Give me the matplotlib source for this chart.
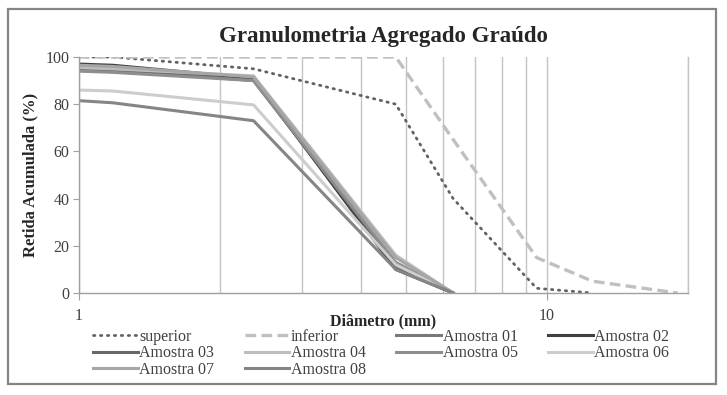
import numpy as np
import matplotlib
matplotlib.use("Agg")
import matplotlib.pyplot as plt
from matplotlib.patches import Rectangle
from matplotlib.ticker import FixedLocator, FixedFormatter, NullFormatter

### data
sieves = [1.0, 1.18, 2.36, 4.75, 6.3]
limit_sup_x = [1.0, 1.18, 2.36, 4.75, 6.3, 9.5, 12.5]
limit_sup_y = [100, 100, 95, 80, 40, 2, 0]
limit_inf_x = [1.0, 1.18, 2.36, 4.75, 6.3, 9.5, 12.5, 19.0]
limit_inf_y = [100, 100, 100, 100, 65, 15, 5, 0]

amostra_01 = [96.0, 95.5, 90.5, 11.0, 0]
amostra_02 = [97.0, 96.5, 91.0, 10.0, 0]
amostra_03 = [95.0, 94.5, 90.0, 12.0, 0]
amostra_04 = [95.5, 95.0, 92.0, 16.0, 0]
amostra_05 = [94.0, 93.5, 90.0, 13.0, 0]
amostra_06 = [86.0, 85.6, 79.7, 12.0, 0]
amostra_07 = [96.5, 96.0, 91.5, 15.0, 0]
amostra_08 = [81.5, 80.6, 73.0, 10.0, 0]

samples = [amostra_01, amostra_02, amostra_03, amostra_04,
           amostra_05, amostra_06, amostra_07, amostra_08]
sample_names = ["Amostra 0%d" % (i + 1) for i in range(8)]
sample_colors = ["#787878", "#404040", "#686868", "#bdbdbd",
                 "#8e8e8e", "#cdcdcd", "#a6a6a6", "#858585"]

serif = ["Liberation Serif", "DejaVu Serif"]
plt.rcParams['font.family'] = serif

W, H = 727, 395
fig = plt.figure(figsize=(7.27, 3.95), dpi=100)
ax = fig.add_axes([79/W, 1-293/H, (688-79)/W, (293-57)/H])

# outer frame
fig.patches.append(Rectangle((8/W, 1-384/H), (716-8)/W, (384-9)/H,
                             transform=fig.transFigure, fill=False,
                             edgecolor="#858585", linewidth=1.6))

h_sup, = ax.plot(limit_sup_x, limit_sup_y, color="#626262", lw=2.0,
                 linestyle=(0, (0.5, 2.0)), dash_capstyle="round", label="superior")
h_inf, = ax.plot(limit_inf_x, limit_inf_y, color="#c0c0c0", lw=2.4,
                 linestyle=(0, (3.2, 1.6)), label="inferior")
handles = []
for vals, name, col in zip(samples, sample_names, sample_colors):
	h, = ax.plot(sieves, vals, color=col, lw=2.2, label=name)
	handles.append(h)

ax.set_xscale("log")
ax.set_xlim(1, 20)
ax.set_ylim(0, 100)
ax.set_yticks([0, 20, 40, 60, 80, 100])
ax.xaxis.set_major_locator(FixedLocator([1, 10]))
ax.xaxis.set_minor_locator(FixedLocator([2, 3, 4, 5, 6, 7, 8, 9, 20]))
ax.xaxis.set_major_formatter(FixedFormatter(["1", "10"]))
ax.xaxis.set_minor_formatter(NullFormatter())
ax.grid(True, which="both", axis="x", color="#c4c4c4", lw=1.0)
ax.axvline(20, color="#c4c4c4", lw=1.0, clip_on=False)

for s in ["top", "right"]:
	ax.spines[s].set_visible(False)
for s in ["left", "bottom"]:
	ax.spines[s].set_color("#a0a0a0")
	ax.spines[s].set_linewidth(1.0)
ax.tick_params(axis="y", colors="#a0a0a0", labelcolor="#404040", labelsize=11.5, length=4, pad=3)
ax.tick_params(axis="x", which="major", colors="#a0a0a0", labelcolor="#404040", labelsize=11.5, length=5, pad=6)
ax.tick_params(axis="x", which="minor", length=0)

ax.set_title("Granulometria Agregado Graúdo", fontsize=16.5, fontweight="bold", color="#262626", pad=11)
ax.set_ylabel("Retida Acumulada (%)", fontsize=12, fontweight="bold", color="#262626", labelpad=5)
fig.text(383/W, 1-321/H, "Diâmetro (mm)", fontsize=11.5, fontweight="bold",
         color="#262626", ha="center", va="center")

order = [h_sup, handles[2], handles[6], h_inf, handles[3], handles[7],
         handles[0], handles[4], handles[1], handles[5]]
leg = fig.legend(handles=order, labels=[h.get_label() for h in order], ncol=4,
                 loc="upper left", bbox_to_anchor=(93/W, 1-329/H),
                 frameon=False, fontsize=11.5, handlelength=2.8, handletextpad=0.1,
                 columnspacing=1.9, labelspacing=0.03, borderaxespad=0, borderpad=0)
for t in leg.get_texts():
	t.set_color("#404040")

fig.savefig("out.png", dpi=100)
